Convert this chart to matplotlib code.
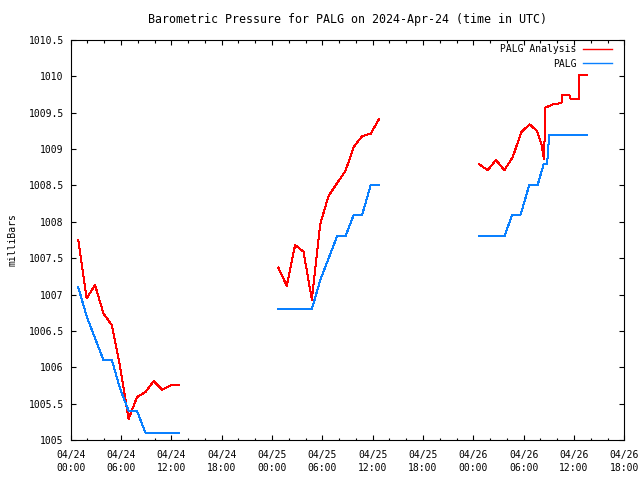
import numpy as np
import matplotlib
matplotlib.use("Agg")
from matplotlib import pyplot as plt
from matplotlib.ticker import MultipleLocator, FuncFormatter

# hours since 2024-04-24 00:00 UTC, NaN breaks the line between days
nan = np.nan
analysis_hours = [0.9, 1.9, 2.9, 3.9, 4.9, 5.9, 6.9, 7.9, 8.9, 9.9, 10.9, 11.9, 12.9, nan,
                  24.75, 25.75, 26.75, 27.75, 28.75, 29.75, 30.75, 31.75, 32.75, 33.75, 34.75, 35.75, 36.75, nan,
                  48.7, 49.7, 50.7, 51.7, 52.7, 53.7, 54.7, 55.6, 56.15, 56.4, 56.45, 56.55, 57.0,
                  57.55, 58.5, 58.57, 59.45, 59.6, 60.55, 60.6, 61.5]
analysis_mb = [1007.75, 1006.95, 1007.13, 1006.74, 1006.58, 1006.0, 1005.29, 1005.59, 1005.66, 1005.81,
               1005.69, 1005.75, 1005.75, nan,
               1007.37, 1007.12, 1007.68, 1007.59, 1006.93, 1007.97, 1008.36, 1008.53, 1008.70, 1009.03,
               1009.18, 1009.21, 1009.41, nan,
               1008.79, 1008.71, 1008.85, 1008.71, 1008.89, 1009.23, 1009.34, 1009.25, 1009.05, 1008.88,
               1008.86, 1009.57, 1009.59, 1009.62, 1009.63, 1009.74, 1009.74, 1009.69, 1009.69, 1010.02,
               1010.02]

obs_hours = [0.9, 1.9, 2.9, 3.9, 4.9, 5.9, 6.9, 7.9, 8.9, 9.9, 10.9, 11.9, 12.9, nan,
             24.75, 25.75, 26.75, 27.75, 28.75, 29.75, 30.75, 31.75, 32.75, 33.75, 34.75, 35.75, 36.75, nan,
             48.7, 49.7, 50.7, 51.7, 52.65, 53.65, 54.65, 55.65, 56.4, 56.8, 57.05, 61.5]
obs_mb = [1007.1, 1006.7, 1006.4, 1006.1, 1006.1, 1005.7, 1005.4, 1005.4, 1005.1, 1005.1, 1005.1, 1005.1,
          1005.1, nan,
          1006.8, 1006.8, 1006.8, 1006.8, 1006.8, 1007.2, 1007.5, 1007.8, 1007.8, 1008.1, 1008.1, 1008.5,
          1008.5, nan,
          1007.8, 1007.8, 1007.8, 1007.8, 1008.1, 1008.1, 1008.5, 1008.5, 1008.8, 1008.8, 1009.2, 1009.2]

plt.rcParams['font.family'] = ['DejaVu Sans Mono']
plt.rcParams['font.size'] = 7

fig = plt.figure(figsize=(6.4, 4.8), dpi=100)
ax = fig.add_axes([0.1105, 0.0833, 0.865, 0.8334])

ax.plot(analysis_hours, analysis_mb, color='#ff0000', lw=0.72, antialiased=False, label='PALG Analysis')
ax.plot(obs_hours, obs_mb, color='#0a80ff', lw=0.72, antialiased=False, label='PALG')

ax.set_xlim(0, 66)
ax.set_ylim(1005, 1010.5)
ax.xaxis.set_major_locator(MultipleLocator(6))
ax.xaxis.set_minor_locator(MultipleLocator(2))
ax.yaxis.set_major_locator(MultipleLocator(0.5))


def hour_label(h, pos):
    day = 24 + int(h // 24)
    return f"04/{day:02d}\n{int(h % 24):02d}:00"


ax.xaxis.set_major_formatter(FuncFormatter(hour_label))
ax.yaxis.set_major_formatter(FuncFormatter(lambda v, p: f"{v:g}"))
ax.tick_params(which='both', direction='in', top=True, right=True, width=0.8, color='black')
ax.tick_params(which='major', length=3.3, pad=5)
ax.tick_params(which='minor', length=1.8)
ax.tick_params(axis='x', which='major', pad=7)
for lbl in ax.get_xticklabels():
    lbl.set_linespacing(1.35)
for s in ax.spines.values():
    s.set_linewidth(0.8)

ax.set_ylabel('milliBars', labelpad=8)
ax.set_title('Barometric Pressure for PALG on 2024-Apr-24 (time in UTC)', pad=12.5)
leg = ax.legend(loc='upper right', bbox_to_anchor=(0.978, 0.99), frameon=False, markerfirst=False,
                handlelength=3.0, borderaxespad=0, borderpad=0, labelspacing=0.5, handletextpad=0.7)
for h in leg.get_lines():
    h.set_linewidth(1.0)

fig.savefig('out.png', dpi=100)
